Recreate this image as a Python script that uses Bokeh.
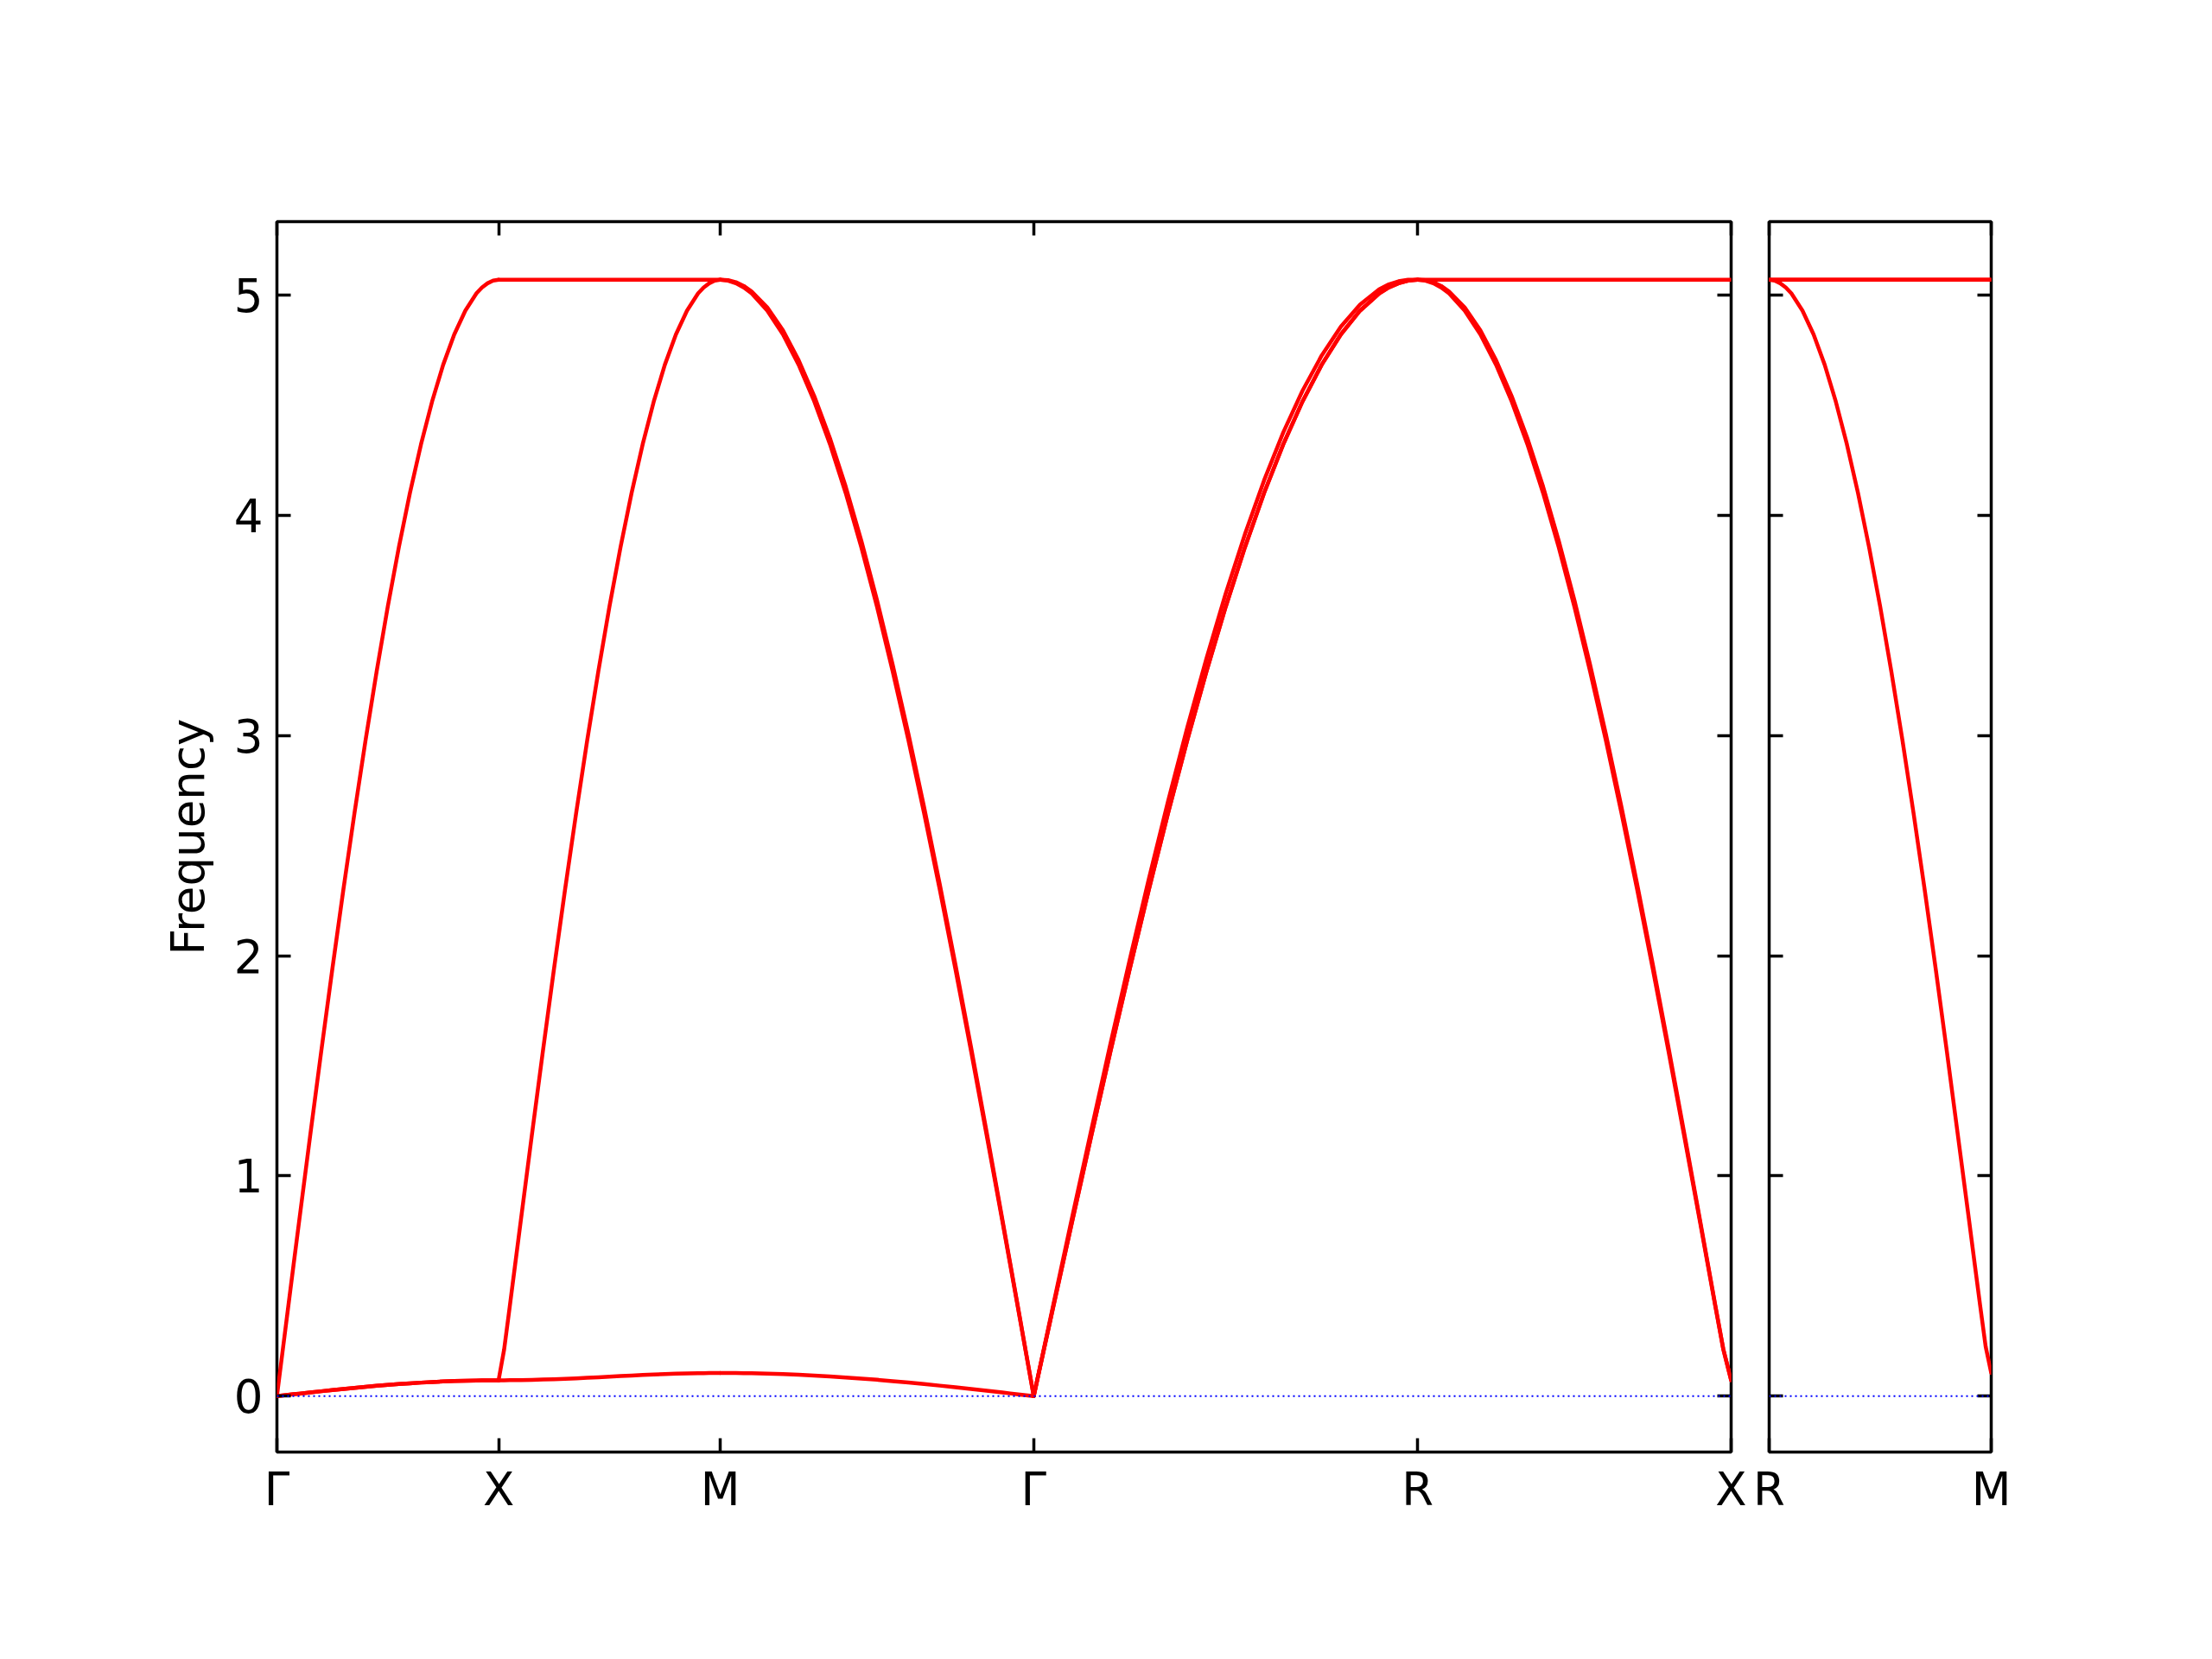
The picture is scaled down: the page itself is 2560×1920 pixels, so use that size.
from bokeh.plotting import figure
from bokeh.layouts import row
from bokeh.models import Range1d, LinearAxis, FixedTicker, Span
from bokeh.embed import file_html
from bokeh.resources import INLINE

FONT = "DejaVu Sans"

# ---- high-symmetry path (distance along the path) ----
left_labels = ["Γ", "X", "M", "Γ", "R", "X"]
left_ticks = [0.0, 0.5, 1.0, 1.7071, 2.5731, 3.2802]
right_labels = ["R", "M"]
right_ticks = [0.0, 0.5]
freq_ticks = [0, 1, 2, 3, 4, 5]
freq_min, freq_max = -0.254, 5.334

# sample positions along every segment (fraction of the segment)
frac = [0.000, 0.025, 0.050, 0.075, 0.100, 0.150, 0.200, 0.250, 0.300, 0.350, 0.400, 0.450, 0.500,
        0.550, 0.600, 0.650, 0.700, 0.750, 0.800, 0.850, 0.900, 0.925, 0.950, 0.975, 1.000]

# ---- Γ–X ----
GX_low1 = [0.0000, 0.0028, 0.0057, 0.0085, 0.0113, 0.0168, 0.0222, 0.0276, 0.0327, 0.0376, 0.0423, 0.0468, 0.0509,
           0.0547, 0.0582, 0.0614, 0.0642, 0.0665, 0.0685, 0.0700, 0.0711, 0.0715, 0.0718, 0.0719, 0.0720]
GX_low2 = [0.0000, 0.0028, 0.0057, 0.0085, 0.0113, 0.0168, 0.0222, 0.0276, 0.0327, 0.0376, 0.0423, 0.0468, 0.0509,
           0.0547, 0.0582, 0.0614, 0.0642, 0.0665, 0.0685, 0.0700, 0.0711, 0.0715, 0.0718, 0.0719, 0.0720]
GX_high = [0.000, 0.199, 0.398, 0.596, 0.793, 1.183, 1.567, 1.940, 2.302, 2.649, 2.980, 3.292, 3.585,
           3.855, 4.102, 4.323, 4.517, 4.684, 4.822, 4.930, 5.008, 5.035, 5.054, 5.066, 5.070]

# ---- X–M ----
XM_low = [0.0720, 0.0721, 0.0722, 0.0725, 0.0728, 0.0738, 0.0752, 0.0768, 0.0788, 0.0810, 0.0834, 0.0859, 0.0885,
          0.0911, 0.0936, 0.0960, 0.0982, 0.1002, 0.1018, 0.1032, 0.1042, 0.1045, 0.1048, 0.1050, 0.1050]
XM_mid = [0.072, 0.212, 0.404, 0.600, 0.796, 1.185, 1.568, 1.941, 2.302, 2.649, 2.980, 3.292, 3.585,
          3.855, 4.102, 4.323, 4.517, 4.684, 4.822, 4.930, 5.008, 5.035, 5.054, 5.066, 5.070]
XM_high = [5.070, 5.070, 5.070, 5.070, 5.070, 5.070, 5.070, 5.070, 5.070, 5.070, 5.070, 5.070, 5.070,
           5.070, 5.070, 5.070, 5.070, 5.070, 5.070, 5.070, 5.070, 5.070, 5.070, 5.070, 5.070]

# ---- M–Γ ----
MG_low = [0.1050, 0.1049, 0.1047, 0.1043, 0.1037, 0.1021, 0.0999, 0.0970, 0.0936, 0.0895, 0.0849, 0.0798, 0.0742,
          0.0682, 0.0617, 0.0549, 0.0477, 0.0402, 0.0324, 0.0245, 0.0164, 0.0123, 0.0082, 0.0041, 0.0000]
MG_a = [5.070, 5.066, 5.054, 5.035, 5.008, 4.930, 4.822, 4.684, 4.517, 4.323, 4.102, 3.855, 3.585,
        3.292, 2.980, 2.649, 2.302, 1.940, 1.567, 1.183, 0.793, 0.596, 0.398, 0.199, 0.000]
MG_b = [5.070, 5.068, 5.059, 5.042, 5.017, 4.944, 4.840, 4.705, 4.541, 4.350, 4.131, 3.885, 3.615,
        3.322, 3.009, 2.676, 2.326, 1.961, 1.585, 1.197, 0.802, 0.603, 0.403, 0.201, 0.000]

# ---- Γ–R ----
GR_a = [0.000, 0.199, 0.398, 0.596, 0.793, 1.183, 1.567, 1.940, 2.302, 2.649, 2.980, 3.292, 3.585,
        3.855, 4.102, 4.323, 4.517, 4.684, 4.822, 4.930, 5.008, 5.035, 5.054, 5.066, 5.070]
GR_b = [0.000, 0.199, 0.398, 0.596, 0.793, 1.183, 1.567, 1.940, 2.302, 2.649, 2.980, 3.292, 3.585,
        3.855, 4.102, 4.323, 4.517, 4.684, 4.822, 4.930, 5.008, 5.035, 5.054, 5.066, 5.070]
GR_c = [0.000, 0.204, 0.407, 0.610, 0.812, 1.210, 1.602, 1.982, 2.351, 2.703, 3.037, 3.351, 3.645,
        3.914, 4.159, 4.377, 4.566, 4.726, 4.857, 4.957, 5.027, 5.049, 5.063, 5.070, 5.070]

# ---- R–X ----
RX_a = [5.070, 5.066, 5.054, 5.035, 5.008, 4.930, 4.822, 4.684, 4.517, 4.323, 4.102, 3.855, 3.585,
        3.292, 2.980, 2.649, 2.302, 1.940, 1.567, 1.183, 0.796, 0.600, 0.404, 0.212, 0.072]
RX_b = [5.070, 5.068, 5.059, 5.042, 5.017, 4.944, 4.840, 4.705, 4.541, 4.350, 4.131, 3.885, 3.615,
        3.322, 3.009, 2.676, 2.326, 1.961, 1.585, 1.197, 0.805, 0.607, 0.409, 0.214, 0.072]
RX_high = [5.070, 5.070, 5.070, 5.070, 5.070, 5.070, 5.070, 5.070, 5.070, 5.070, 5.070, 5.070, 5.070,
           5.070, 5.070, 5.070, 5.070, 5.070, 5.070, 5.070, 5.070, 5.070, 5.070, 5.070, 5.070]

# ---- R–M (second panel) ----
RM_low = [5.070, 5.066, 5.054, 5.035, 5.008, 4.930, 4.822, 4.684, 4.517, 4.323, 4.102, 3.855, 3.585,
          3.292, 2.980, 2.649, 2.302, 1.940, 1.567, 1.183, 0.800, 0.605, 0.412, 0.225, 0.105]
RM_high1 = [5.070, 5.070, 5.070, 5.070, 5.070, 5.070, 5.070, 5.070, 5.070, 5.070, 5.070, 5.070, 5.070,
            5.070, 5.070, 5.070, 5.070, 5.070, 5.070, 5.070, 5.070, 5.070, 5.070, 5.070, 5.070]
RM_high2 = [5.070, 5.070, 5.070, 5.070, 5.070, 5.070, 5.070, 5.070, 5.070, 5.070, 5.070, 5.070, 5.070,
            5.070, 5.070, 5.070, 5.070, 5.070, 5.070, 5.070, 5.070, 5.070, 5.070, 5.070, 5.070]

left_segments = [
    (0, 1, [GX_low1, GX_low2, GX_high]),
    (1, 2, [XM_low, XM_mid, XM_high]),
    (2, 3, [MG_low, MG_a, MG_b]),
    (3, 4, [GR_a, GR_b, GR_c]),
    (4, 5, [RX_a, RX_b, RX_high]),
]
right_segments = [
    (0, 1, [RM_low, RM_high1, RM_high2]),
]

FRAME_H = 1424
TOP, BOTTOM = 256, 240
LW_AX = 3.5


def style_axis(ax, labels):
    ax.axis_line_color = None
    ax.major_tick_in = 16
    ax.major_tick_out = 0
    ax.minor_tick_line_color = None
    ax.major_tick_line_width = LW_AX
    ax.major_tick_line_color = "black"
    if labels:
        ax.major_label_text_font = FONT
        ax.major_label_text_font_size = "53px"
        ax.major_label_text_color = "black"
    else:
        ax.major_label_text_color = None
        ax.major_label_text_alpha = 0
        ax.major_label_standoff = 0


def make_panel(ticks, labels, segments, frame_w, border_l, border_r, y_labels):
    p = figure(x_range=Range1d(ticks[0], ticks[-1]), y_range=Range1d(freq_min, freq_max),
               frame_width=frame_w, frame_height=FRAME_H,
               min_border_left=border_l, min_border_right=border_r,
               min_border_top=TOP, min_border_bottom=BOTTOM,
               x_axis_location=None, y_axis_location=None,
               output_backend="svg", toolbar_location=None, tools="")
    p.grid.visible = False
    p.outline_line_color = "black"
    p.outline_line_width = LW_AX
    p.outline_line_alpha = 1.0
    p.background_fill_color = "white"
    p.border_fill_color = "white"

    overrides = {t: l for t, l in zip(ticks, labels)}

    xb = LinearAxis(ticker=FixedTicker(ticks=ticks), major_label_overrides=overrides)
    style_axis(xb, True)
    xb.major_label_standoff = 12
    p.add_layout(xb, "below")

    xt = LinearAxis(ticker=FixedTicker(ticks=ticks))
    style_axis(xt, False)
    p.add_layout(xt, "above")

    yl = LinearAxis(ticker=FixedTicker(ticks=freq_ticks))
    style_axis(yl, y_labels)
    if y_labels:
        yl.major_label_standoff = 16
        yl.axis_label = "Frequency"
        yl.axis_label_text_font = FONT
        yl.axis_label_text_font_size = "53px"
        yl.axis_label_text_font_style = "normal"
        yl.axis_label_text_color = "black"
        yl.axis_label_standoff = 20
    p.add_layout(yl, "left")

    yr = LinearAxis(ticker=FixedTicker(ticks=freq_ticks))
    style_axis(yr, False)
    p.add_layout(yr, "right")

    xs, ys = [], []
    for i0, i1, bands in segments:
        x0, x1 = ticks[i0], ticks[i1]
        seg_x = [x0 + f * (x1 - x0) for f in frac]
        for b in bands:
            xs.append(seg_x)
            ys.append(b)
    p.multi_line(xs, ys, line_color="#ff0000", line_width=4.5,
                 line_join="round", line_cap="round")

    p.add_layout(Span(location=0, dimension="width", line_color="#0000ff",
                      line_width=2.2, line_dash="2 4"))
    return p


p1 = make_panel(left_ticks, left_labels, left_segments, 1683, 320, 21, True)
p2 = make_panel(right_ticks, right_labels, right_segments, 257, 23, 256, False)

layout = row(p1, p2)
open("out.html", "w").write(file_html(layout, INLINE))
